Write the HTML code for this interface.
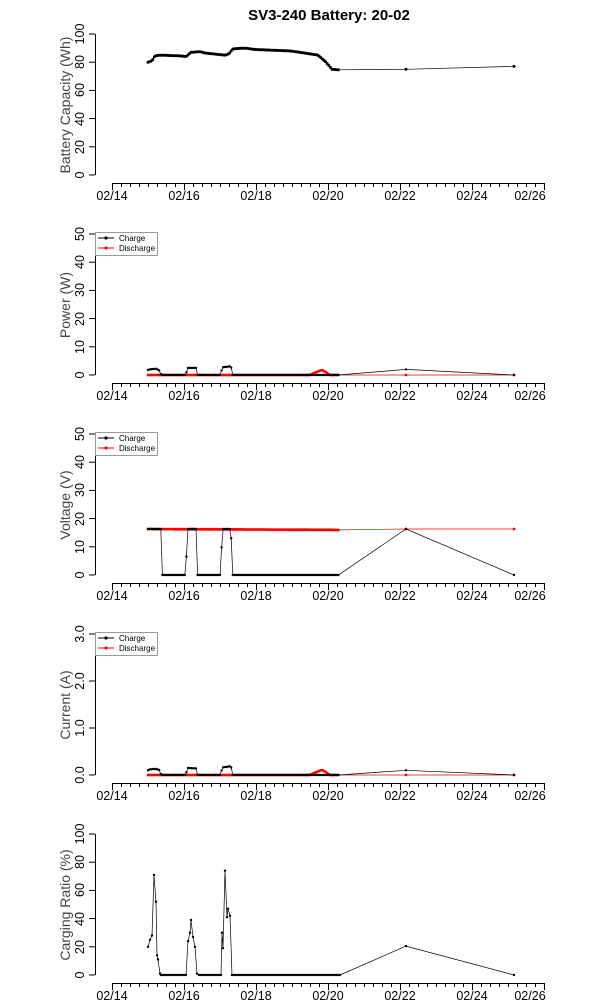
<!DOCTYPE html>
<html><head><meta charset="utf-8"><style>
body{margin:0;background:#fff;width:600px;height:1000px;overflow:hidden}
svg{font-family:"Liberation Sans",sans-serif}
.tl{font-size:12.5px;fill:#000}
.yt{font-size:14px;fill:#444}
.lg{font-size:8px}
</style></head><body>
<svg id="s" width="600" height="1000" xmlns="http://www.w3.org/2000/svg">
<text x="329" y="20" text-anchor="middle" font-weight="bold" font-size="15">SV3-240 Battery: 20-02</text>
<g id="g"></g>
<text class="yt" transform="translate(70,105) rotate(-90)" text-anchor="middle">Battery Capacity (Wh)</text>
<text class="yt" transform="translate(70,305) rotate(-90)" text-anchor="middle">Power (W)</text>
<text class="yt" transform="translate(70,505) rotate(-90)" text-anchor="middle">Voltage (V)</text>
<text class="yt" transform="translate(70,705) rotate(-90)" text-anchor="middle">Current (A)</text>
<text class="yt" transform="translate(70,905) rotate(-90)" text-anchor="middle">Carging Ratio (%)</text>
<g class="tl" text-anchor="middle">
<g transform="translate(0,0)"><text x="112" y="200">02/14</text><text x="184" y="200">02/16</text><text x="256" y="200">02/18</text><text x="328" y="200">02/20</text><text x="400" y="200">02/22</text><text x="472" y="200">02/24</text><text x="530" y="200">02/26</text></g>
<g transform="translate(0,200)"><text x="112" y="200">02/14</text><text x="184" y="200">02/16</text><text x="256" y="200">02/18</text><text x="328" y="200">02/20</text><text x="400" y="200">02/22</text><text x="472" y="200">02/24</text><text x="530" y="200">02/26</text></g>
<g transform="translate(0,400)"><text x="112" y="200">02/14</text><text x="184" y="200">02/16</text><text x="256" y="200">02/18</text><text x="328" y="200">02/20</text><text x="400" y="200">02/22</text><text x="472" y="200">02/24</text><text x="530" y="200">02/26</text></g>
<g transform="translate(0,600)"><text x="112" y="200">02/14</text><text x="184" y="200">02/16</text><text x="256" y="200">02/18</text><text x="328" y="200">02/20</text><text x="400" y="200">02/22</text><text x="472" y="200">02/24</text><text x="530" y="200">02/26</text></g>
<g transform="translate(0,800)"><text x="112" y="200">02/14</text><text x="184" y="200">02/16</text><text x="256" y="200">02/18</text><text x="328" y="200">02/20</text><text x="400" y="200">02/22</text><text x="472" y="200">02/24</text><text x="530" y="200">02/26</text></g>
</g>
<g class="tl" text-anchor="middle">
<text transform="translate(84,175) rotate(-90)">0</text><text transform="translate(84,147) rotate(-90)">20</text><text transform="translate(84,119) rotate(-90)">40</text><text transform="translate(84,90) rotate(-90)">60</text><text transform="translate(84,62) rotate(-90)">80</text><text transform="translate(84,34) rotate(-90)">100</text>
<text transform="translate(84,375) rotate(-90)">0</text><text transform="translate(84,347) rotate(-90)">10</text><text transform="translate(84,319) rotate(-90)">20</text><text transform="translate(84,290) rotate(-90)">30</text><text transform="translate(84,262) rotate(-90)">40</text><text transform="translate(84,234) rotate(-90)">50</text>
<text transform="translate(84,575) rotate(-90)">0</text><text transform="translate(84,547) rotate(-90)">10</text><text transform="translate(84,519) rotate(-90)">20</text><text transform="translate(84,490) rotate(-90)">30</text><text transform="translate(84,462) rotate(-90)">40</text><text transform="translate(84,434) rotate(-90)">50</text>
<text transform="translate(84,775) rotate(-90)">0.0</text><text transform="translate(84,728) rotate(-90)">1.0</text><text transform="translate(84,681) rotate(-90)">2.0</text><text transform="translate(84,634) rotate(-90)">3.0</text>
<text transform="translate(84,975) rotate(-90)">0</text><text transform="translate(84,947) rotate(-90)">20</text><text transform="translate(84,919) rotate(-90)">40</text><text transform="translate(84,890) rotate(-90)">60</text><text transform="translate(84,862) rotate(-90)">80</text><text transform="translate(84,834) rotate(-90)">100</text>
</g>
<g class="lg">
<g transform="translate(0,0)"><rect x="95.5" y="232.5" width="62" height="23" fill="#fff" stroke="#999"/><line x1="98" y1="238" x2="114" y2="238" stroke="#000"/><circle cx="106" cy="238" r="1.6"/><text x="119" y="241">Charge</text><line x1="98" y1="248" x2="114" y2="248" stroke="red"/><circle cx="106" cy="248" r="1.6" fill="red"/><text x="119" y="251">Discharge</text></g>
<g transform="translate(0,200)"><rect x="95.5" y="232.5" width="62" height="23" fill="#fff" stroke="#999"/><line x1="98" y1="238" x2="114" y2="238" stroke="#000"/><circle cx="106" cy="238" r="1.6"/><text x="119" y="241">Charge</text><line x1="98" y1="248" x2="114" y2="248" stroke="red"/><circle cx="106" cy="248" r="1.6" fill="red"/><text x="119" y="251">Discharge</text></g>
<g transform="translate(0,400)"><rect x="95.5" y="232.5" width="62" height="23" fill="#fff" stroke="#999"/><line x1="98" y1="238" x2="114" y2="238" stroke="#000"/><circle cx="106" cy="238" r="1.6"/><text x="119" y="241">Charge</text><line x1="98" y1="248" x2="114" y2="248" stroke="red"/><circle cx="106" cy="248" r="1.6" fill="red"/><text x="119" y="251">Discharge</text></g>
</g>
</svg>
<script>
var g=document.getElementById('g'),h='';
for(var p=0;p<5;p++){var o=p*200;
 h+='<line x1="112" y1="'+(183.5+o)+'" x2="544" y2="'+(183.5+o)+'" stroke="#000"/>';
 for(var i=0;i<=48;i++){var x=112+i*9;h+='<line x1="'+(x+.5)+'" y1="'+(183+o)+'" x2="'+(x+.5)+'" y2="'+(183+o+(i%8==0?7:4))+'" stroke="#000"/>';}
 h+='<line x1="95.5" y1="'+(34+o)+'" x2="95.5" y2="'+(175+o)+'" stroke="#000"/>';
 var n=(p==3)?3:5;for(var k=0;k<=n;k++){var y=175+o-k*141/n;h+='<line x1="89" y1="'+y+'" x2="95" y2="'+y+'" stroke="#000"/>';}
}
function interp(pts,x){for(var i=0;i<pts.length-1;i++){if(x>=pts[i][0]&&x<=pts[i+1][0]){var t=(x-pts[i][0])/(pts[i+1][0]-pts[i][0]);return pts[i][1]+t*(pts[i+1][1]-pts[i][1]);}}return pts[pts.length-1][1];}
function series(pts,y0,sc,col,dense,r,step){var arr=[];if(dense){for(var x=148;x<=340;x+=(step||1.6))arr.push([x,interp(pts,x)]);arr.push([406,dense[0]]);arr.push([514,dense[1]]);}else arr=pts;
 var d='';arr.forEach(function(q,i){d+=(i?'L':'M')+q[0].toFixed(1)+','+(y0-q[1]*sc).toFixed(1);});
 h+='<path d="'+d+'" fill="none" stroke="'+col+'" stroke-width="0.7"/>';
 arr.forEach(function(q){h+='<circle cx="'+q[0].toFixed(1)+'" cy="'+(y0-q[1]*sc).toFixed(1)+'" r="'+(r||1.3)+'" fill="'+col+'"/>';});}
var cap=[[148,80],[152,81],[155,84.5],[160,85],[180,84.5],[186,84],[191,87],[200,87.5],[205,86.5],[225,85],[229,86],[233,89.5],[245,90],[255,89],[290,88],[300,87],[318,85],[326,80],[332,75],[340,74.5]];
series(cap,175,1.41,'#000',[75,77],1.5);
var pwC=[[148,1.8],[150,2],[156,2.2],[160,1.5],[161,0],[186,0],[187,2.5],[196,2.5],[197,0],[221,0],[222,2.7],[229,3],[231,3.3],[232,0],[340,0]];
var pwD=[[148,0],[310,0],[316,1],[322,1.8],[326,1],[330,0],[340,0]];
series(pwD,375,2.82,'red',[0,0],1.4);series(pwC,375,2.82,'#000',[2,0],1.2);
var vD=[[148,16.3],[340,16]];
var vC=[[148,16.3],[161,16.3],[162,0],[186,0],[187,16.3],[196,16.3],[197,0],[221,0],[222,16.3],[231,16.3],[232,0],[340,0]];
series(vD,575,2.82,'red',[16.3,16.3],1.4);series(vC,575,2.82,'#000',[16.3,0],1.2);
var cC=[[148,0.1],[150,0.12],[156,0.13],[160,0.1],[161,0],[186,0],[187,0.15],[196,0.14],[197,0],[221,0],[222,0.16],[229,0.18],[231,0.2],[232,0],[340,0]];
var cD=[[148,0],[310,0],[316,0.06],[322,0.11],[326,0.06],[330,0],[340,0]];
series(cD,775,47,'red',[0,0],1.4);series(cC,775,47,'#000',[0.1,0],1.2);
var rC=[[148,20],[150,25],[152,28],[154,71],[156,52],[157,14],[158,11],[160,1],[161,0]];
for(var x=162;x<=187;x+=2)rC.push([x,0]);
rC=rC.concat([[188,24],[190,30],[191,39],[193,27],[195,20],[197,1],[199,0]]);
for(x=201;x<=221;x+=2)rC.push([x,0]);
rC=rC.concat([[222,30],[223,19],[225,74],[227,41],[228,47],[230,42],[232,0]]);
for(x=234;x<=340;x+=2)rC.push([x,0]);
rC.push([406,20.5]);rC.push([514,0]);
series(rC,975,1.41,'#000',null,1.2);
g.innerHTML=h;
</script>
</body></html>
